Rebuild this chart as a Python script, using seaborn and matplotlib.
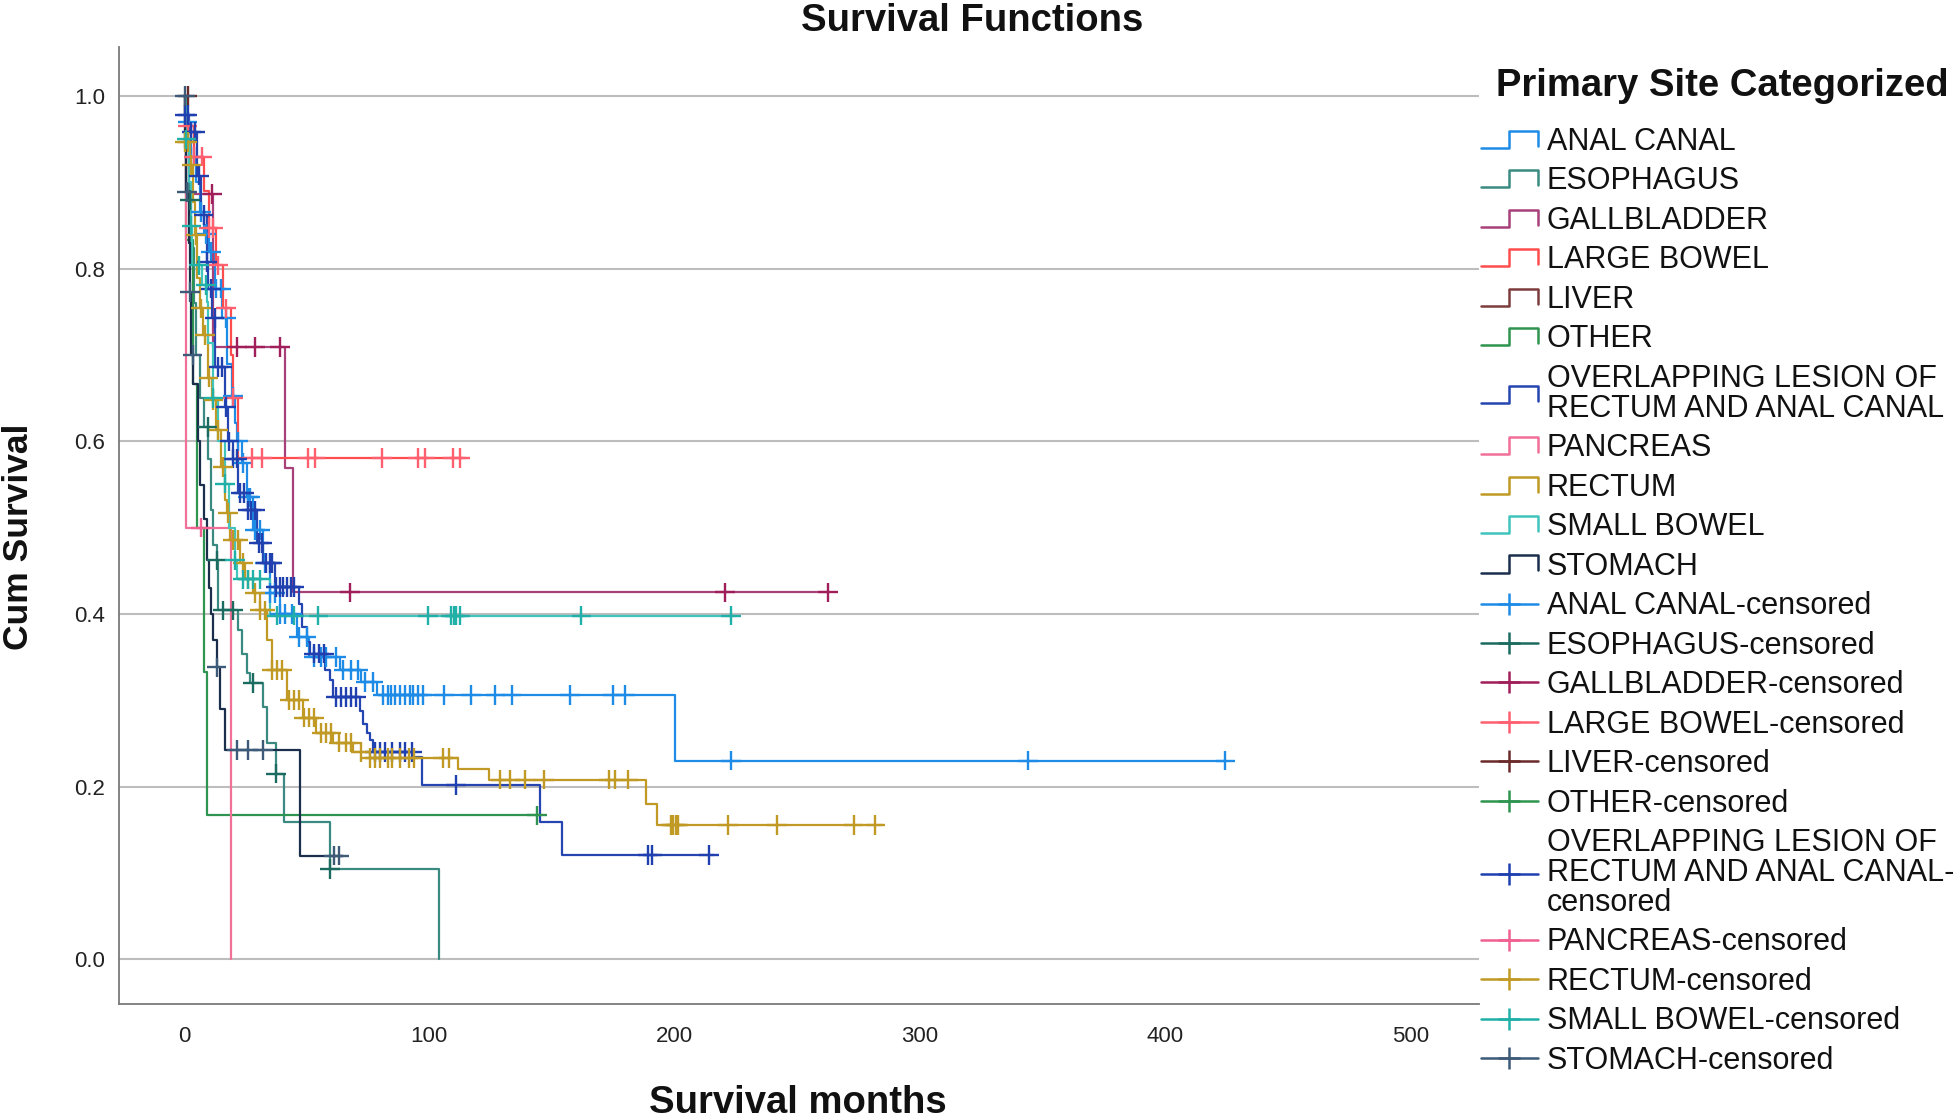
import numpy as np
import pandas as pd
import matplotlib
matplotlib.use('Agg')
import matplotlib.pyplot as plt
import seaborn as sns
from matplotlib.lines import Line2D
from matplotlib.legend_handler import HandlerBase

# Kaplan-Meier steps: times (months) and survival after each step
sites = ['ANAL CANAL', 'ESOPHAGUS', 'GALLBLADDER', 'LARGE BOWEL', 'LIVER', 'OTHER',
         'OVERLAPPING LESION OF RECTUM AND ANAL CANAL', 'PANCREAS', 'RECTUM',
         'SMALL BOWEL', 'STOMACH']

anal_t = [0, 1, 3, 5, 6.5, 8, 10, 12.6, 15.4, 17.4, 19.4, 20.8, 21.5, 23.5, 25.6, 28.2,
          32.3, 35, 39, 46, 51, 63.6, 72, 78.6, 200]
anal_s = [1.0, 0.97, 0.93, 0.90, 0.866, 0.84, 0.82, 0.777, 0.743, 0.69, 0.652, 0.621, 0.60,
          0.575, 0.535, 0.497, 0.459, 0.424, 0.40, 0.373, 0.35, 0.335, 0.321, 0.306, 0.23]
anal_c = [1.5, 4, 7, 9, 11, 13, 15, 17, 20, 22, 24, 26, 27, 29, 31, 33, 35, 37, 39, 41, 44,
          47, 50, 53, 56, 58, 62, 65, 68, 71, 74, 77, 81, 83, 84.5, 86, 88, 90, 92, 93.5,
          95.4, 97.3, 106, 117, 127, 133.6, 157.5, 175, 179.7, 223, 344, 424.6]
anal_end = 425

eso_t = [0, 1, 2, 3, 4, 5, 6.5, 8, 9.9, 11, 12, 13.3, 14, 22, 23.5, 25.6, 27, 32.3, 33.7,
         37.5, 40.8, 59.5, 104]
eso_s = [1.0, 0.94, 0.88, 0.824, 0.76, 0.70, 0.65, 0.617, 0.58, 0.52, 0.48, 0.462, 0.404,
         0.381, 0.354, 0.331, 0.32, 0.292, 0.25, 0.215, 0.159, 0.1045, 0.0]
eso_c = [2.4, 9.8, 13.3, 16, 20, 28.2, 37.6, 59.5]
eso_end = 104

gall_t = [0, 1, 12, 41.2, 44.3]
gall_s = [1.0, 0.887, 0.709, 0.569, 0.425]
gall_c = [11.6, 21.7, 28.9, 39.2, 67.6, 220.7, 262.5]
gall_end = 262.5

large_t = [0, 1, 4, 8, 10, 13, 16, 19, 20, 22]
large_s = [1.0, 0.966, 0.93, 0.89, 0.847, 0.804, 0.754, 0.70, 0.65, 0.581]
large_c = [1.5, 4, 7.5, 10, 12, 14, 17, 20, 27.6, 31.7, 50.6, 53.4, 80.6, 95.4, 98.3,
           109.7, 112.5]
large_end = 115

liver_t = [0]
liver_s = [1.0]
liver_c = [1.5]
liver_end = 1.5

other_t = [0, 1, 3.8, 5.2, 8, 9.2]
other_s = [1.0, 0.833, 0.667, 0.5, 0.333, 0.1665]
other_c = [143.8]
other_end = 146

over_t = [0, 0.5, 2, 5.2, 7, 9.2, 9.9, 11.3, 12.6, 16.7, 18, 20, 22, 26, 29.6, 32.3, 37,
          47, 48, 50, 51.4, 57.5, 59.5, 60.8, 71.8, 73, 74.5, 75.9, 77, 93.5, 97, 145, 154]
over_s = [1.0, 0.978, 0.959, 0.908, 0.862, 0.808, 0.777, 0.743, 0.686, 0.64, 0.60, 0.58,
          0.54, 0.52, 0.482, 0.459, 0.431, 0.412, 0.385, 0.367, 0.354, 0.335, 0.323, 0.304,
          0.288, 0.272, 0.262, 0.254, 0.24, 0.234, 0.2016, 0.159, 0.1205]
over_c = [0.5, 1.5, 3, 4.5, 6, 8, 9.5, 11, 12.5, 14, 15.5, 17, 18.5, 20, 21.5, 23, 24.5, 26,
          27.5, 29, 30.5, 32, 33.5, 35, 36, 37.5, 39, 40.5, 42, 43.5, 45, 53, 55, 57, 62, 64,
          66, 68, 70, 78, 80, 82, 85, 88, 90, 93, 111, 189, 191, 214]
over_end = 216

panc_t = [0, 1, 19]
panc_s = [1.0, 0.5, 0.0]
panc_c = [7]
panc_end = 19

rect_t = [0, 0.4, 2.4, 3.8, 4.5, 5.2, 6.5, 7.8, 9.9, 11.3, 13, 15, 16.7, 17.5, 18.8, 22.8,
          25, 28, 31, 33.7, 35.8, 42, 48.5, 54, 60.8, 69, 75.9, 111.8, 124.3, 188.3, 193]
rect_s = [1.0, 0.947, 0.92, 0.877, 0.839, 0.789, 0.754, 0.723, 0.674, 0.648, 0.613, 0.57,
          0.532, 0.517, 0.486, 0.459, 0.44, 0.424, 0.404, 0.37, 0.335, 0.30, 0.28, 0.262,
          0.251, 0.24, 0.233, 0.2207, 0.208, 0.18, 0.1557]
rect_c = [0.5, 1.5, 3, 5, 7, 8.5, 10, 12, 14, 16, 18, 20, 22, 24, 26, 29, 31, 33, 36, 38, 40,
          43, 45, 47, 49, 51, 53, 56, 58, 60, 63, 66, 68, 72, 76, 78, 80, 83, 85, 88, 91.6,
          93.8, 105.6, 108, 129, 132.8, 139, 146.9, 173.4, 175.8, 181.2, 198.4, 199.5,
          200.5, 201.5, 221.8, 241.9, 273, 281.9]
rect_end = 284.5

small_t = [0, 1, 2, 3, 3.1, 7.2, 9.2, 9.9, 12, 14, 16.7, 18.5, 20.8, 21.5, 35]
small_s = [1.0, 0.95, 0.90, 0.85, 0.804, 0.781, 0.762, 0.714, 0.65, 0.60, 0.551, 0.50,
           0.462, 0.44, 0.398]
small_c = [1, 3, 6, 9, 12, 16.7, 20.8, 24, 26, 28, 31, 38, 45, 54.8, 99.6, 108.7, 110, 111,
           112.6, 162, 222.9]
small_end = 225

stom_t = [0, 0.5, 1, 2, 2.4, 3, 3.8, 5.8, 6.5, 8, 9.2, 10, 11, 12, 13.3, 14.5, 16.7, 47.5]
stom_s = [1.0, 0.94, 0.889, 0.83, 0.773, 0.70, 0.667, 0.60, 0.55, 0.51, 0.462, 0.43, 0.40,
          0.37, 0.338, 0.29, 0.242, 0.12]
stom_c = [0.3, 1.2, 2.4, 3.5, 13.3, 21.5, 26.1, 32.2, 61, 63.4]
stom_end = 65

steps = [(anal_t, anal_s, anal_c, anal_end), (eso_t, eso_s, eso_c, eso_end),
         (gall_t, gall_s, gall_c, gall_end), (large_t, large_s, large_c, large_end),
         (liver_t, liver_s, liver_c, liver_end), (other_t, other_s, other_c, other_end),
         (over_t, over_s, over_c, over_end), (panc_t, panc_s, panc_c, panc_end),
         (rect_t, rect_s, rect_c, rect_end), (small_t, small_s, small_c, small_end),
         (stom_t, stom_s, stom_c, stom_end)]

line_colors = ['#1e8ce6', '#3a8a82', '#a8407a', '#ff4d4d', '#7d3c3c', '#2e9450',
               '#2545b0', '#f07098', '#c09a24', '#40c4bc', '#1b2f4d']
cens_colors = ['#1e8ce6', '#1c6b60', '#a01e5a', '#ff6070', '#6a2a2a', '#2e9450',
               '#2040b0', '#f06090', '#c09a24', '#20b0a8', '#3d5a78']

legend_names = ['ANAL CANAL', 'ESOPHAGUS', 'GALLBLADDER', 'LARGE BOWEL', 'LIVER', 'OTHER',
                'OVERLAPPING LESION OF\nRECTUM AND ANAL CANAL', 'PANCREAS', 'RECTUM',
                'SMALL BOWEL', 'STOMACH']
cens_names = ['ANAL CANAL-censored', 'ESOPHAGUS-censored', 'GALLBLADDER-censored',
              'LARGE BOWEL-censored', 'LIVER-censored', 'OTHER-censored',
              'OVERLAPPING LESION OF\nRECTUM AND ANAL CANAL-\ncensored',
              'PANCREAS-censored', 'RECTUM-censored', 'SMALL BOWEL-censored',
              'STOMACH-censored']

# long tables for seaborn
rows, crow = [], []
for site, (t, s, c, end) in zip(sites, steps):
    for ti, si in zip(t + [end], s + [s[-1]]):
        rows.append((site, ti, si))
    t_arr = np.array(t)
    for ci in c:
        crow.append((site, ci, s[np.searchsorted(t_arr, ci, side='right') - 1]))
lines = pd.DataFrame(rows, columns=['site', 'time', 'surv'])
cens = pd.DataFrame(crow, columns=['site', 'time', 'surv'])

sns.set_style('white')
plt.rcParams['font.family'] = ['Liberation Sans', 'DejaVu Sans']

fig = plt.figure(figsize=(19.6, 11.2), dpi=100)
ax = fig.add_axes([119 / 1960, 1 - 1004 / 1120, 1360 / 1960, 957 / 1120])

sns.lineplot(data=lines, x='time', y='surv', hue='site', hue_order=sites,
             palette=dict(zip(sites, line_colors)), drawstyle='steps-post',
             estimator=None, sort=False, legend=False, linewidth=1.6, ax=ax)
sns.scatterplot(data=cens, x='time', y='surv', hue='site', hue_order=sites,
                palette=dict(zip(sites, cens_colors)), marker='+', s=200,
                linewidth=1.7, legend=False, ax=ax, zorder=3)

ax.set_xlim(-26.5, 528)
ax.set_ylim(-0.052, 1.057)
ax.set_xticks([0, 100, 200, 300, 400, 500])
ax.set_yticks([0.0, 0.2, 0.4, 0.6, 0.8, 1.0])
ax.set_yticklabels(['0.0', '0.2', '0.4', '0.6', '0.8', '1.0'])
ax.tick_params(axis='both', length=0, labelsize=16, colors='#222222')
ax.tick_params(axis='x', pad=16)
ax.tick_params(axis='y', pad=10)
ax.yaxis.grid(True, color='#bdbdbd', linewidth=1.5)
ax.set_axisbelow(True)
for side in ['top', 'right']:
    ax.spines[side].set_visible(False)
for side in ['left', 'bottom']:
    ax.spines[side].set_color('#7a7a7a')
    ax.spines[side].set_linewidth(1.3)
ax.set_xlabel('')
ax.set_ylabel('')

lab = dict(fontweight='bold', color='#111111')
fig.text(798 / 1960, 1 - 1103 / 1120, 'Survival months', ha='center', va='center',
         fontsize=27.5, **lab)
fig.text(19 / 1960, 1 - 537 / 1120, 'Cum Survival', ha='center', va='center',
         rotation=90, fontsize=25.5, **lab)
fig.text(972 / 1960, 1 - 3 / 1120, 'Survival Functions', ha='center', va='top',
         fontsize=27.5, **lab)
fig.text(1722 / 1960, 1 - 86 / 1120, 'Primary Site Categorized', ha='center',
         va='center', fontsize=27.5, **lab)


class StepHandler(HandlerBase):
    def create_artists(self, legend, orig_handle, xdescent, ydescent, width, height,
                       fontsize, trans):
        x0, y0 = -xdescent, -ydescent
        xs = [x0, x0 + 0.5 * width, x0 + 0.5 * width, x0 + width, x0 + width]
        ys = [y0 + 0.1 * height, y0 + 0.1 * height, y0 + 0.9 * height,
              y0 + 0.9 * height, y0 + 0.2 * height]
        return [Line2D(xs, ys, color=orig_handle.get_color(), lw=1.8, transform=trans)]


step_handles = [Line2D([], [], color=c) for c in line_colors]
cens_handles = [Line2D([], [], color=c, lw=1.8, marker='+', markersize=16, mew=1.8)
                for c in cens_colors]
leg = fig.legend(step_handles + cens_handles, legend_names + cens_names,
                 handler_map={h: StepHandler() for h in step_handles},
                 loc='upper left', bbox_to_anchor=(1481 / 1960, 1 - 127 / 1120),
                 frameon=False, fontsize=22, numpoints=1, handlelength=1.85,
                 handletextpad=0.3, labelspacing=0.31, borderpad=0, borderaxespad=0)
for txt in leg.get_texts():
    txt.set_linespacing(1.0)
    txt.set_color('#111111')

plt.savefig('out.png', dpi=100)
